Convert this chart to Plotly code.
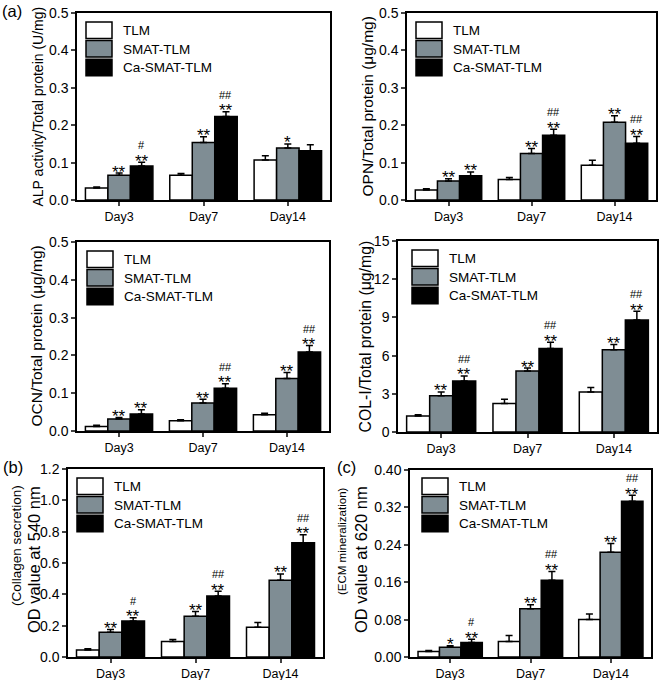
import plotly.graph_objects as go

W, H = 661, 680

days = ["Day3", "Day7", "Day14"]
groups = ["TLM", "SMAT-TLM", "Ca-SMAT-TLM"]

# ---- data (rows: TLM, SMAT-TLM, Ca-SMAT-TLM; columns: Day3, Day7, Day14) ----
alp_mean = [[0.032, 0.066, 0.107], [0.066, 0.154, 0.139], [0.091, 0.223, 0.132]]
alp_err = [[0.003, 0.005, 0.011], [0.006, 0.015, 0.011], [0.010, 0.013, 0.016]]
alp_star = [["", "", ""], ["**", "**", "*"], ["**", "**", ""]]
alp_hash = [["", "", ""], ["", "", ""], ["#", "##", ""]]

opn_mean = [[0.027, 0.055, 0.093], [0.051, 0.124, 0.208], [0.065, 0.173, 0.152]]
opn_err = [[0.003, 0.005, 0.013], [0.006, 0.014, 0.017], [0.010, 0.016, 0.018]]
opn_star = [["", "", ""], ["**", "**", "**"], ["**", "**", "**"]]
opn_hash = [["", "", ""], ["", "", ""], ["", "##", "##"]]

ocn_mean = [[0.012, 0.027, 0.043], [0.032, 0.074, 0.139], [0.045, 0.113, 0.209]]
ocn_err = [[0.003, 0.003, 0.004], [0.004, 0.010, 0.016], [0.011, 0.012, 0.017]]
ocn_star = [["", "", ""], ["**", "**", "**"], ["**", "**", "**"]]
ocn_hash = [["", "", ""], ["", "", ""], ["", "##", "##"]]

col_mean = [[1.25, 2.24, 3.15], [2.84, 4.79, 6.46], [4.01, 6.56, 8.80]]
col_err = [[0.10, 0.34, 0.34], [0.31, 0.23, 0.42], [0.39, 0.49, 0.68]]
col_star = [["", "", ""], ["**", "**", "**"], ["**", "**", "**"]]
col_hash = [["", "", ""], ["", "", ""], ["##", "##", "##"]]

colsec_mean = [[0.044, 0.099, 0.190], [0.158, 0.260, 0.490], [0.230, 0.390, 0.730]]
colsec_err = [[0.008, 0.013, 0.030], [0.017, 0.030, 0.040], [0.020, 0.030, 0.050]]
colsec_star = [["", "", ""], ["**", "**", "**"], ["**", "**", "**"]]
colsec_hash = [["", "", ""], ["", "", ""], ["#", "##", "##"]]

ecm_mean = [[0.012, 0.033, 0.080], [0.021, 0.103, 0.224], [0.031, 0.164, 0.333]]
ecm_err = [[0.002, 0.013, 0.012], [0.003, 0.009, 0.019], [0.007, 0.019, 0.013]]
ecm_star = [["", "", ""], ["*", "**", "**"], ["**", "**", "**"]]
ecm_hash = [["", "", ""], ["", "", ""], ["#", "##", "##"]]

# ---- styles ----
FONT = "Liberation Sans, Arial, sans-serif"
bar_colors = ["#ffffff", "#7f8d94", "#000000"]
BAR_GAP = 0.2

panels = [
    dict(mean=alp_mean, err=alp_err, star=alp_star, hsh=alp_hash,
         px=(77, 330), py=(13, 200), yr=[0, 0.5], dtick=0.1, fmt=".1f",
         titles=[("ALP activity/Total protein (U/mg)", 14, 37, None)], leg_left=9, leg_top=9),
    dict(mean=opn_mean, err=opn_err, star=opn_star, hsh=opn_hash,
         px=(407, 656), py=(13, 200), yr=[0, 0.5], dtick=0.1, fmt=".1f",
         titles=[("OPN/Total protein (\u03bcg/mg)", 15.5, 367, None)], leg_left=9, leg_top=9),
    dict(mean=ocn_mean, err=ocn_err, star=ocn_star, hsh=ocn_hash,
         px=(77, 329), py=(242, 431), yr=[0, 0.5], dtick=0.1, fmt=".1f",
         titles=[("OCN/Total protein (\u03bcg/mg)", 15.5, 36, None)], leg_left=10, leg_top=9),
    dict(mean=col_mean, err=col_err, star=col_star, hsh=col_hash,
         px=(398, 657), py=(241, 432), yr=[0, 15], dtick=3, fmt="d",
         titles=[("COL-I/Total protein (\u03bcg/mg)", 15.8, 365, None)], leg_left=14, leg_top=9),
    dict(mean=colsec_mean, err=colsec_err, star=colsec_star, hsh=colsec_hash,
         px=(68, 323), py=(469, 657), yr=[0, 1.2], dtick=0.2, fmt=".1f",
         titles=[("(Collagen secretion)", 13.5, 16, 546), ("OD value at 540 nm", 16.5, 34, 560)],
         leg_left=9, leg_top=9),
    dict(mean=ecm_mean, err=ecm_err, star=ecm_star, hsh=ecm_hash,
         px=(410, 651), py=(470, 657), yr=[0, 0.40], dtick=0.08, fmt=".2f",
         titles=[("(ECM mineralization)", 11.5, 342, 541), ("OD value at 620 nm", 16.5, 361, 560)],
         leg_left=12, leg_top=8),
]

fig = go.Figure()
annotations = []
shapes = []
bw = (1 - BAR_GAP) / 3

for k, p in enumerate(panels, start=1):
    xn = "x" if k == 1 else f"x{k}"
    yn = "y" if k == 1 else f"y{k}"
    for j, g in enumerate(groups):
        fig.add_trace(go.Bar(
            x=[0, 1, 2], y=p["mean"][j], name=g, showlegend=False,
            xaxis=xn, yaxis=yn,
            marker=dict(color=bar_colors[j], line=dict(color="black", width=1.5)),
            error_y=dict(type="data", array=p["err"][j], arrayminus=[0, 0, 0],
                         symmetric=False, color="black", thickness=1.5, width=3.5),
        ))
        for i in range(3):
            star = p["star"][j][i]
            hsh = p["hsh"][j][i]
            top = p["mean"][j][i] + p["err"][j][i]
            xc = i + (j - 1) * bw
            if star:
                annotations.append(dict(x=xc, y=top, xref=xn, yref=yn, text=star,
                                        showarrow=False, yanchor="bottom", yshift=-9.5,
                                        borderpad=0,
                                        font=dict(family=FONT, size=17, color="black")))
            if hsh:
                annotations.append(dict(x=xc, y=top, xref=xn, yref=yn, text=hsh,
                                        showarrow=False, yanchor="bottom", yshift=10,
                                        borderpad=0,
                                        font=dict(family=FONT, size=11, color="black")))
    x0, x1 = p["px"]
    y0, y1 = p["py"]
    axx = dict(domain=[x0 / W, x1 / W], anchor=yn, range=[-0.5, 2.5],
               tickvals=[0, 1, 2], ticktext=days, ticks="outside", ticklen=4, tickwidth=1.5,
               showline=True, linecolor="black", linewidth=1.5, mirror=True,
               showgrid=False, zeroline=False, automargin=False,
               tickfont=dict(family=FONT, size=12.5, color="black"))
    ayy = dict(domain=[1 - y1 / H, 1 - y0 / H], anchor=xn, range=p["yr"], dtick=p["dtick"],
               tick0=0, tickformat=p["fmt"], ticks="outside", ticklen=4, tickwidth=1.5,
               showline=True, linecolor="black", linewidth=1.5, mirror=True,
               showgrid=False, zeroline=False, automargin=False,
               tickfont=dict(family=FONT, size=14, color="black"))
    fig.update_layout(**{("xaxis" if k == 1 else f"xaxis{k}"): axx,
                         ("yaxis" if k == 1 else f"yaxis{k}"): ayy})
    # y titles
    for text, size, xpix, ypix in p["titles"]:
        yc = (y0 + y1) / 2 if ypix is None else ypix
        annotations.append(dict(x=xpix / W, y=1 - yc / H, xref="paper", yref="paper",
                                text=text, textangle=-90, showarrow=False,
                                xanchor="center", yanchor="middle",
                                font=dict(family=FONT, size=size, color="black")))
    # legend keys
    pw, ph = x1 - x0, y1 - y0
    for j, g in enumerate(groups):
        top_px = p["leg_top"] + j * 18.6
        shapes.append(dict(type="rect", xref=f"{xn} domain", yref=f"{yn} domain",
                           x0=p["leg_left"] / pw, x1=(p["leg_left"] + 26) / pw,
                           y0=1 - (top_px + 16.5) / ph, y1=1 - top_px / ph,
                           fillcolor=bar_colors[j], line=dict(color="black", width=1.5)))
        annotations.append(dict(x=(p["leg_left"] + 35) / pw, y=1 - (top_px + 8.5) / ph,
                                xref=f"{xn} domain", yref=f"{yn} domain", text=g,
                                showarrow=False, xanchor="left", yanchor="middle",
                                font=dict(family=FONT, size=13.5, color="black")))

for lab, xpix, ypix in [("(a)", 12, 11), ("(b)", 13, 467), ("(c)", 346, 467)]:
    annotations.append(dict(x=xpix / W, y=1 - ypix / H, xref="paper", yref="paper", text=lab,
                            showarrow=False, xanchor="center", yanchor="middle",
                            font=dict(family=FONT, size=16.5, color="black")))

fig.update_layout(width=W, height=H, margin=dict(l=0, r=0, t=0, b=0),
                  paper_bgcolor="white", plot_bgcolor="white",
                  barmode="group", bargap=BAR_GAP, bargroupgap=0,
                  annotations=annotations, shapes=shapes, showlegend=False)

fig.write_html("out.html", config={"displayModeBar": False},
               post_script="document.body.style.margin='0px';")
